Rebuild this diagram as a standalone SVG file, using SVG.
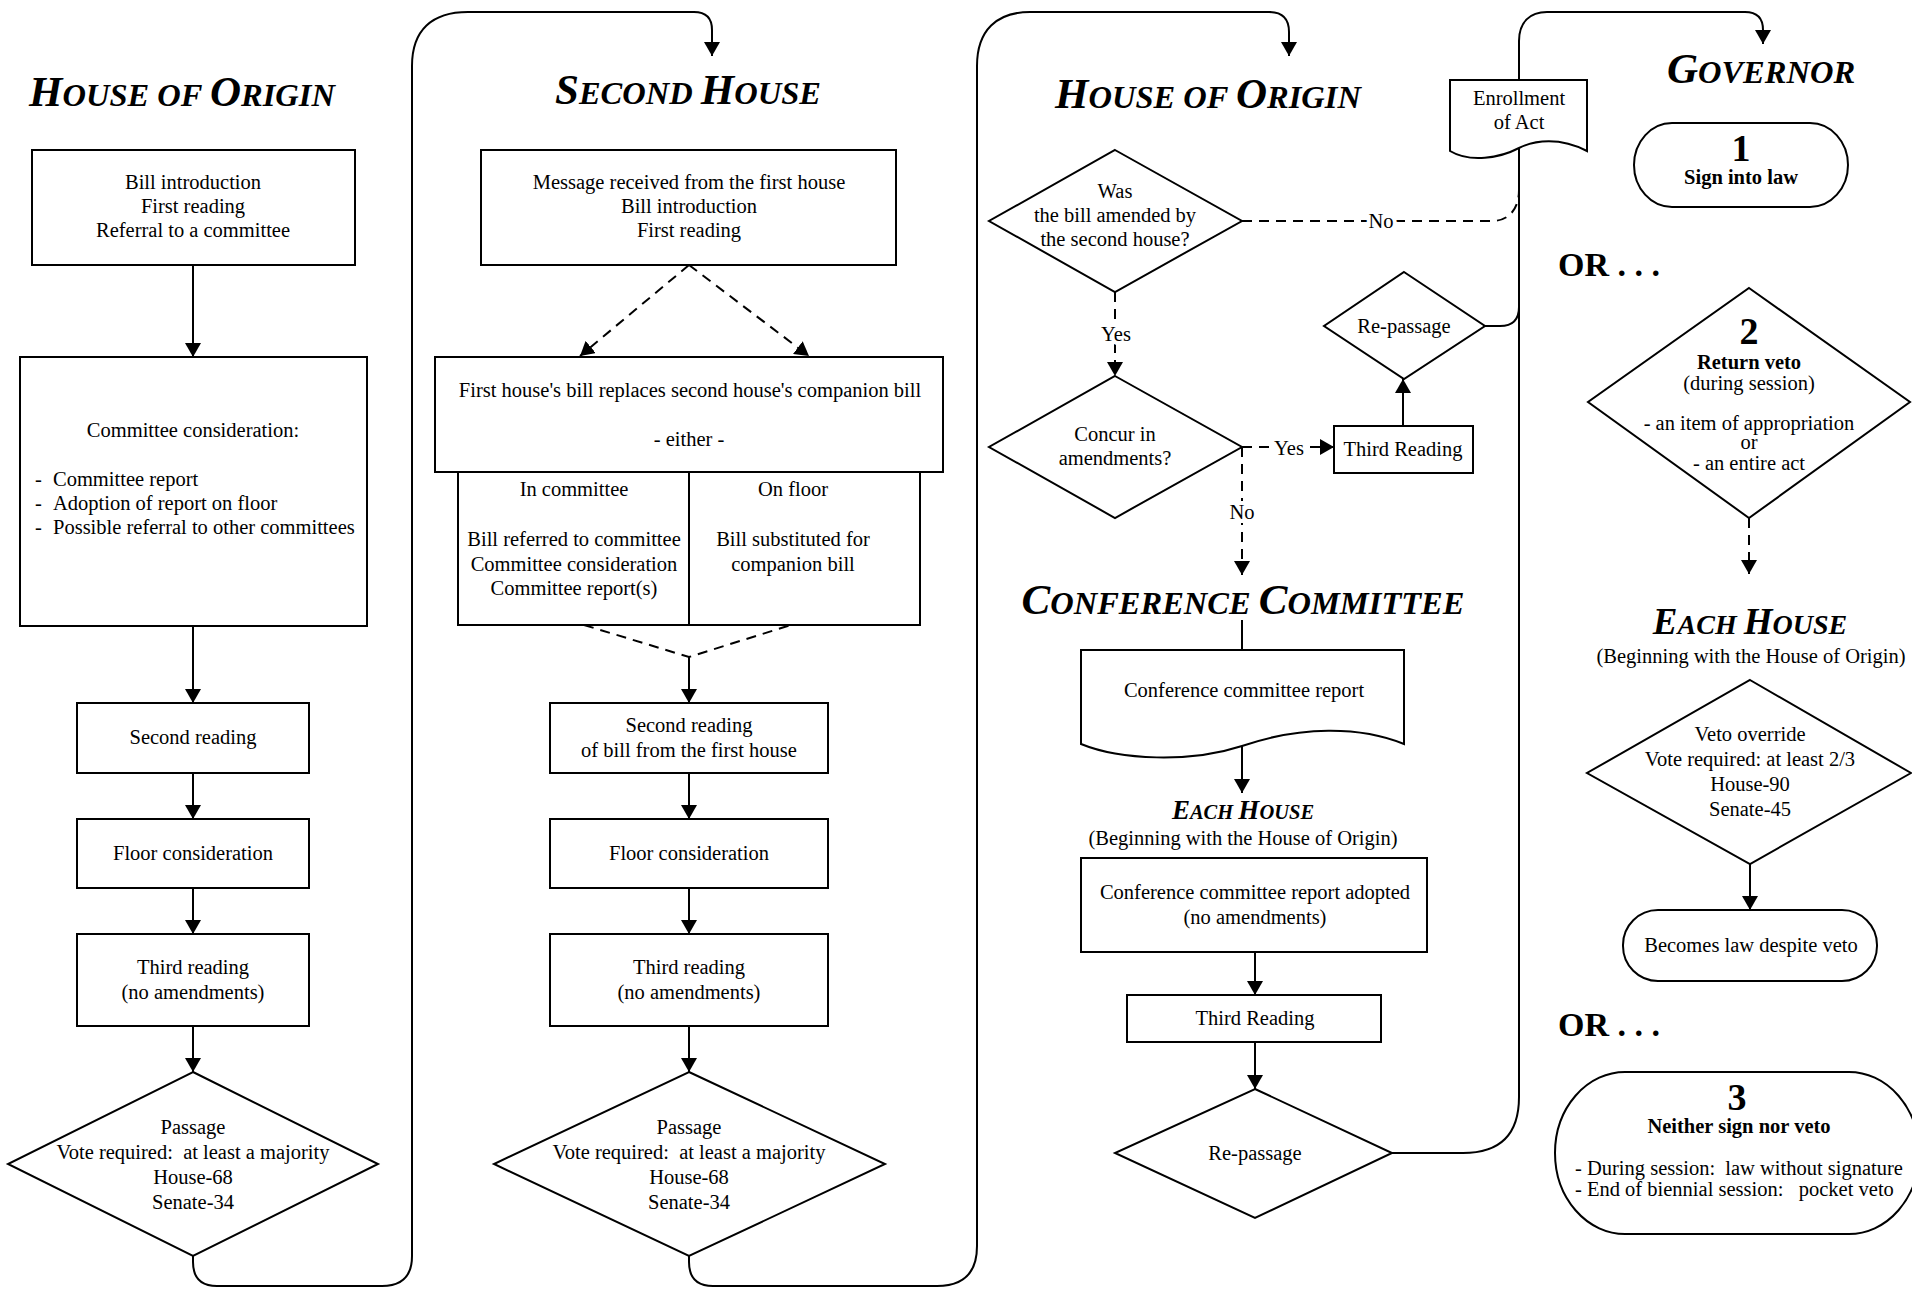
<svg xmlns="http://www.w3.org/2000/svg" width="1912" height="1290" viewBox="0 0 1912 1290">
<defs>
<style>
.b{fill:#fff;stroke:#000;stroke-width:2}
.t{font-family:"Liberation Serif","Times New Roman",serif;font-size:20.5px;fill:#000;text-anchor:middle}
.l{text-anchor:start}
.bd{font-weight:bold}
.big{font-size:38px}
.or{font-size:34px}
.h{font-family:"Liberation Serif","Times New Roman",serif;font-weight:bold;font-style:italic;fill:#000;text-anchor:middle}
.c{fill:none;stroke:#000;stroke-width:2}
.d{stroke-dasharray:10 7}
.lab{paint-order:stroke;stroke:#fff;stroke-width:8px;stroke-linejoin:round}
</style>
<marker id="a" markerWidth="14" markerHeight="16" refX="14" refY="8" orient="auto" markerUnits="userSpaceOnUse">
<path d="M0,0 L14,8 L0,16 Z" fill="#000"/>
</marker>
</defs>
<rect width="1912" height="1290" fill="#fff"/>

<g id="connectors">
<path class="c" d="M193,265 V357" marker-end="url(#a)"/>
<path class="c" d="M193,626 V703" marker-end="url(#a)"/>
<path class="c" d="M193,773 V819" marker-end="url(#a)"/>
<path class="c" d="M193,888 V934" marker-end="url(#a)"/>
<path class="c" d="M193,1026 V1072" marker-end="url(#a)"/>
<path class="c" d="M193,1256 V1262 Q193,1286 217,1286 H382 Q412,1286 412,1256 V66 C412,30 432,12 468,12 H694 Q712,12 712,30 V56" marker-end="url(#a)"/>

<path class="c d" d="M689,265 L580,356" marker-end="url(#a)"/>
<path class="c d" d="M689,265 L809,356" marker-end="url(#a)"/>
<path class="c d" d="M584,625 L689,657 L791,625"/>
<path class="c" d="M689,657 V703" marker-end="url(#a)"/>
<path class="c" d="M689,773 V819" marker-end="url(#a)"/>
<path class="c" d="M689,888 V934" marker-end="url(#a)"/>
<path class="c" d="M689,1026 V1072" marker-end="url(#a)"/>
<path class="c" d="M689,1256 V1262 Q689,1286 713,1286 H937 Q977,1286 977,1246 V66 C977,30 997,12 1030,12 H1269 Q1289,12 1289,32 V56" marker-end="url(#a)"/>

<path class="c d" d="M1115,292 V376" marker-end="url(#a)"/>
<path class="c d" d="M1242,221 H1492 C1508,221 1519,210 1519,190"/>
<path class="c d" d="M1242,447 H1334" marker-end="url(#a)"/>
<path class="c d" d="M1242,447 V575" marker-end="url(#a)"/>
<path class="c" d="M1403,426 V379" marker-end="url(#a)"/>
<path class="c" d="M1485,326 H1500 Q1519,326 1519,307"/>
<path class="c" d="M1242,620 V650"/>
<path class="c" d="M1242,746 V793" marker-end="url(#a)"/>
<path class="c" d="M1255,952 V995" marker-end="url(#a)"/>
<path class="c" d="M1255,1042 V1089" marker-end="url(#a)"/>
<path class="c" d="M1392,1153 H1463 Q1519,1153 1519,1097 V41 C1519,22 1530,12 1547,12 H1745 Q1763,12 1763,30 V44" marker-end="url(#a)"/>

<path class="c d" d="M1749,518 V574" marker-end="url(#a)"/>
<path class="c" d="M1750,864 V910" marker-end="url(#a)"/>

<text class="t lab" x="1116" y="341">Yes</text>
<text class="t lab" x="1381" y="228">No</text>
<text class="t lab" x="1289" y="455">Yes</text>
<text class="t lab" x="1242" y="519">No</text>
</g>

<g id="title-house-origin-1"><text class="h" x="182" y="106" font-size="32.5"><tspan font-size="43">H</tspan>OUSE OF <tspan font-size="43">O</tspan>RIGIN</text></g>
<g id="title-second-house"><text class="h" x="688" y="104" font-size="32.5"><tspan font-size="43">S</tspan>ECOND <tspan font-size="43">H</tspan>OUSE</text></g>
<g id="title-house-origin-2"><text class="h" x="1208" y="108" font-size="32.5"><tspan font-size="43">H</tspan>OUSE OF <tspan font-size="43">O</tspan>RIGIN</text></g>
<g id="title-conference"><text class="h" x="1243" y="614" font-size="32.5"><tspan font-size="43">C</tspan>ONFERENCE <tspan font-size="43">C</tspan>OMMITTEE</text></g>
<g id="title-each-house-3"><text class="h" x="1243" y="819" font-size="20.5"><tspan font-size="27">E</tspan>ACH <tspan font-size="27">H</tspan>OUSE</text>
<text class="t" x="1243" y="845">(Beginning with the House of Origin)</text></g>
<g id="title-governor"><text class="h" x="1761" y="83" font-size="32.5"><tspan font-size="43">G</tspan>OVERNOR</text></g>
<g id="title-each-house-4"><text class="h" x="1750" y="634" font-size="28"><tspan font-size="37">E</tspan>ACH <tspan font-size="37">H</tspan>OUSE</text>
<text class="t" x="1751" y="663">(Beginning with the House of Origin)</text></g>

<g id="n1"><rect class="b" x="32" y="150" width="323" height="115"/>
<text class="t" x="193" y="189">Bill introduction</text>
<text class="t" x="193" y="213">First reading</text>
<text class="t" x="193" y="237">Referral to a committee</text></g>
<g id="n2"><rect class="b" x="20" y="357" width="347" height="269"/>
<text class="t" x="193" y="437">Committee consideration:</text>
<text class="t l" y="486"><tspan x="35">-</tspan><tspan x="53">Committee report</tspan></text>
<text class="t l" y="510"><tspan x="35">-</tspan><tspan x="53">Adoption of report on floor</tspan></text>
<text class="t l" y="534"><tspan x="35">-</tspan><tspan x="53">Possible referral to other committees</tspan></text></g>
<g id="n3"><rect class="b" x="77" y="703" width="232" height="70"/>
<text class="t" x="193" y="744">Second reading</text></g>
<g id="n4"><rect class="b" x="77" y="819" width="232" height="69"/>
<text class="t" x="193" y="860">Floor consideration</text></g>
<g id="n5"><rect class="b" x="77" y="934" width="232" height="92"/>
<text class="t" x="193" y="974">Third reading</text>
<text class="t" x="193" y="999">(no amendments)</text></g>
<g id="n6"><path class="b" d="M193,1072 L378,1164 L193,1256 L8,1164 Z"/>
<text class="t" x="193" y="1134">Passage</text>
<text class="t" x="193" y="1159" xml:space="preserve">Vote required:  at least a majority</text>
<text class="t" x="193" y="1184">House-68</text>
<text class="t" x="193" y="1209">Senate-34</text></g>

<g id="m1"><rect class="b" x="481" y="150" width="415" height="115"/>
<text class="t" x="689" y="189">Message received from the first house</text>
<text class="t" x="689" y="213">Bill introduction</text>
<text class="t" x="689" y="237">First reading</text></g>
<g id="m2"><rect class="b" x="435" y="357" width="508" height="115"/>
<text class="t" x="690" y="397">First house's bill replaces second house's companion bill</text>
<text class="t" x="689" y="446">- either -</text></g>
<g id="m3"><rect class="b" x="458" y="472" width="462" height="153"/>
<line class="c" x1="689" y1="472" x2="689" y2="625"/>
<text class="t" x="574" y="496">In committee</text>
<text class="t" x="574" y="546">Bill referred to committee</text>
<text class="t" x="574" y="571">Committee consideration</text>
<text class="t" x="574" y="595">Committee report(s)</text>
<text class="t" x="793" y="496">On floor</text>
<text class="t" x="793" y="546">Bill substituted for</text>
<text class="t" x="793" y="571">companion bill</text></g>
<g id="m4"><rect class="b" x="550" y="703" width="278" height="70"/>
<text class="t" x="689" y="732">Second reading</text>
<text class="t" x="689" y="757">of bill from the first house</text></g>
<g id="m5"><rect class="b" x="550" y="819" width="278" height="69"/>
<text class="t" x="689" y="860">Floor consideration</text></g>
<g id="m6"><rect class="b" x="550" y="934" width="278" height="92"/>
<text class="t" x="689" y="974">Third reading</text>
<text class="t" x="689" y="999">(no amendments)</text></g>
<g id="m7"><path class="b" d="M689,1072 L885,1164 L689,1256 L494,1164 Z"/>
<text class="t" x="689" y="1134">Passage</text>
<text class="t" x="689" y="1159" xml:space="preserve">Vote required:  at least a majority</text>
<text class="t" x="689" y="1184">House-68</text>
<text class="t" x="689" y="1209">Senate-34</text></g>

<g id="q1"><path class="b" d="M1115,150 L1242,221 L1115,292 L989,221 Z"/>
<text class="t" x="1115" y="198">Was</text>
<text class="t" x="1115" y="222">the bill amended by</text>
<text class="t" x="1115" y="246">the second house?</text></g>
<g id="q2"><path class="b" d="M1115,376 L1242,447 L1115,518 L989,447 Z"/>
<text class="t" x="1115" y="441">Concur in</text>
<text class="t" x="1115" y="465">amendments?</text></g>
<g id="q3"><rect class="b" x="1334" y="426" width="139" height="47"/>
<text class="t" x="1403" y="456">Third Reading</text></g>
<g id="q4"><path class="b" d="M1404,272 L1485,326 L1404,379 L1324,326 Z"/>
<text class="t" x="1404" y="333">Re-passage</text></g>
<g id="enroll"><path class="b" d="M1450,80 H1587 V151 C1560,137 1535,140 1519,148 C1500,158 1470,163 1450,151 Z"/>
<text class="t" x="1519" y="105">Enrollment</text>
<text class="t" x="1519" y="129">of Act</text></g>
<g id="q5"><path class="b" d="M1081,650 H1404 V744 C1360,726 1300,726 1242,746 C1190,763 1120,760 1081,744 Z"/>
<text class="t" x="1244" y="697">Conference committee report</text></g>
<g id="q6"><rect class="b" x="1081" y="858" width="346" height="94"/>
<text class="t" x="1255" y="899">Conference committee report adopted</text>
<text class="t" x="1255" y="924">(no amendments)</text></g>
<g id="q7"><rect class="b" x="1127" y="995" width="254" height="47"/>
<text class="t" x="1255" y="1025">Third Reading</text></g>
<g id="q8"><path class="b" d="M1255,1089 L1392,1153 L1255,1218 L1115,1153 Z"/>
<text class="t" x="1255" y="1160">Re-passage</text></g>

<g id="g1"><rect class="b" x="1634" y="123" width="214" height="84" rx="38" ry="42"/>
<text class="t bd big" x="1741" y="161">1</text>
<text class="t bd" x="1741" y="184">Sign into law</text></g>
<g id="or1"><text class="t bd l or" x="1558" y="276">OR . . .</text></g>
<g id="g2"><path class="b" d="M1749,288 L1910,402 L1749,518 L1588,402 Z"/>
<text class="t bd big" x="1749" y="344">2</text>
<text class="t bd" x="1749" y="369">Return veto</text>
<text class="t" x="1749" y="390">(during session)</text>
<text class="t" x="1749" y="430">- an item of appropriation</text>
<text class="t" x="1749" y="449">or</text>
<text class="t" x="1749" y="470">- an entire act</text></g>
<g id="g3"><path class="b" d="M1750,680 L1911,773 L1750,864 L1587,773 Z"/>
<text class="t" x="1750" y="741">Veto override</text>
<text class="t" x="1750" y="766">Vote required: at least 2/3</text>
<text class="t" x="1750" y="791">House-90</text>
<text class="t" x="1750" y="816">Senate-45</text></g>
<g id="g4"><rect class="b" x="1623" y="910" width="254" height="71" rx="35" ry="35"/>
<text class="t" x="1751" y="952">Becomes law despite veto</text></g>
<g id="or2"><text class="t bd l or" x="1558" y="1036">OR . . .</text></g>
<g id="g5"><rect class="b" x="1555" y="1072" width="364" height="162" rx="70" ry="81"/>
<text class="t bd big" x="1737" y="1110">3</text>
<text class="t bd" x="1739" y="1133">Neither sign nor veto</text>
<text class="t l" x="1575" y="1175" xml:space="preserve">- During session:  law without signature</text>
<text class="t l" x="1575" y="1196" xml:space="preserve">- End of biennial session:   pocket veto</text></g>
</svg>
